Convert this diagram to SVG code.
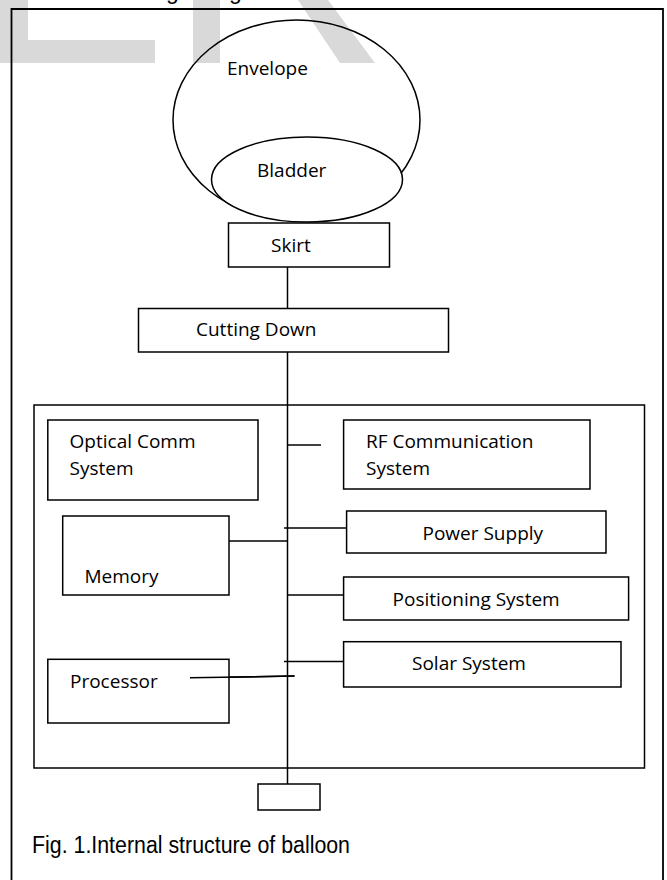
<svg xmlns="http://www.w3.org/2000/svg" width="667" height="880" viewBox="0 0 667 880">
  <style>
    .box { fill: #ffffff; stroke: #000000; stroke-width: 1.5; }
    .shell { fill: none; stroke: #000000; stroke-width: 1.5; }
    .wire { fill: none; stroke: #000000; stroke-width: 1.5; }
    .lbl { font-family: "Open Sans", "Noto Sans", "Liberation Sans", sans-serif; font-size: 19px; fill: #000000; }
    .cap { font-family: "Liberation Sans", Arial, sans-serif; font-size: 23px; fill: #000000; }
    .mark { fill: #d9d9d9; }
  </style>

  <rect width="667" height="880" fill="#ffffff"/>

  <!-- faint letters behind the figure at the top edge -->
  <g id="watermark">
    <rect class="mark" x="0" y="0" width="28" height="63"/>
    <rect class="mark" x="28" y="40" width="127" height="23"/>
    <rect class="mark" x="193" y="0" width="27" height="63"/>
    <polygon class="mark" points="298,0 328,0 375,63 340,63"/>
  </g>

  <!-- descenders of the line above the figure -->
  <text class="cap" x="166" y="-1" font-size="15">g</text>
  <text class="cap" x="229" y="-1" font-size="15">g</text>

  <!-- figure frame -->
  <path d="M11.5,880 V9 H663 V880" fill="none" stroke="#000000" stroke-width="1.8"/>

  <g id="envelope">
    <ellipse class="shell" cx="296.5" cy="120" rx="123.5" ry="100"/>
    <text class="lbl" x="227" y="75">Envelope</text>
  </g>

  <g id="bladder">
    <ellipse class="box" cx="307" cy="179.5" rx="95.5" ry="42.5"/>
    <text class="lbl" x="257" y="176.5">Bladder</text>
  </g>

  <g id="connectors">
    <line class="wire" x1="287.5" y1="267" x2="287.5" y2="308.5"/>
    <line class="wire" x1="287.5" y1="352" x2="287.5" y2="784"/>
    <line class="wire" x1="288" y1="445" x2="321" y2="445"/>
    <line class="wire" x1="284" y1="528" x2="346.5" y2="528"/>
    <line class="wire" x1="229" y1="541" x2="288" y2="541"/>
    <line class="wire" x1="288" y1="595" x2="348" y2="595"/>
    <line class="wire" x1="284" y1="661.5" x2="343.5" y2="661.5"/>
    <line class="wire" x1="190" y1="677.7" x2="294.5" y2="676"/>
  </g>

  <g id="skirt">
    <rect class="box" x="228.5" y="223" width="161" height="44"/>
    <text class="lbl" x="271" y="252">Skirt</text>
  </g>

  <g id="cutting-down">
    <rect class="box" x="138.5" y="308.5" width="310" height="43.5"/>
    <text class="lbl" x="196" y="336">Cutting Down</text>
  </g>

  <g id="payload">
    <rect class="shell" x="34" y="405" width="610.5" height="363"/>
  </g>

  <g id="optical-comm">
    <rect class="box" x="47.8" y="420" width="210.2" height="80"/>
    <text class="lbl" x="69.6" y="448">Optical Comm</text>
    <text class="lbl" x="69.6" y="475">System</text>
  </g>

  <g id="rf-comm">
    <rect class="box" x="343.6" y="420" width="246.4" height="69"/>
    <text class="lbl" x="366" y="448">RF Communication</text>
    <text class="lbl" x="366" y="475">System</text>
  </g>

  <g id="memory">
    <rect class="box" x="62.7" y="516" width="166.3" height="79"/>
    <text class="lbl" x="84.5" y="583">Memory</text>
  </g>

  <g id="power-supply">
    <rect class="box" x="346.6" y="511" width="259.4" height="42"/>
    <text class="lbl" x="422.5" y="540">Power Supply</text>
  </g>

  <g id="positioning">
    <rect class="box" x="343.6" y="577" width="285" height="43"/>
    <text class="lbl" x="392.6" y="606">Positioning System</text>
  </g>

  <g id="solar">
    <rect class="box" x="343.6" y="641.7" width="277.4" height="45.3"/>
    <text class="lbl" x="412" y="670">Solar System</text>
  </g>

  <g id="processor">
    <rect class="box" x="47.8" y="659.3" width="181.2" height="63.7"/>
    <text class="lbl" x="70" y="688">Processor</text>
  </g>

  <!-- processor lead drawn over its box -->
  <line class="wire" x1="190" y1="677.7" x2="294.5" y2="676"/>

  <g id="ballast">
    <rect class="box" x="258" y="784" width="62" height="26"/>
  </g>

  <text class="cap" x="32" y="853" textLength="318" lengthAdjust="spacingAndGlyphs">Fig. 1.Internal structure of balloon</text>
</svg>
